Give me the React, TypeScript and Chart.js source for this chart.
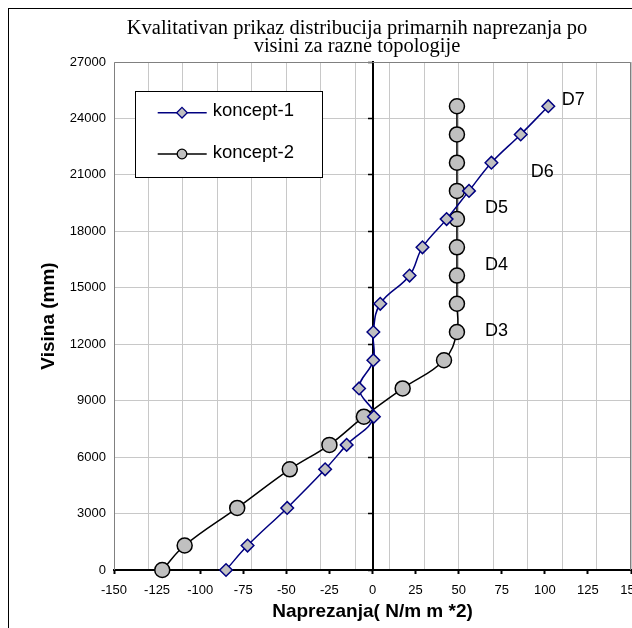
import React, { useEffect, useRef } from 'react';
import { Chart, registerables } from 'chart.js';

Chart.register(...registerables);

// ---- data ----
const heights = [0, 1300, 3300, 5350, 6650, 8150, 9650, 11150, 12650, 14150, 15650, 17150, 18650, 20150, 21650, 23150, 24650];
const koncept1 = [-85, -72.5, -49.5, -27.5, -15, 0.8, -7.8, 0.5, 0.5, 4.5, 21.5, 29, 43, 56, 69, 86, 102];
const koncept2 = [-122, -109, -78.5, -48, -25, -5, 17.5, 41.5, 49, 49, 49, 49, 49, 49, 49, 49, 49];
const seriesNames = ['koncept-1', 'koncept-2'];
const levelLabels = ['D7', 'D6', 'D5', 'D4', 'D3'];
const levelX = [116.5, 98.5, 72, 72, 72];
const levelY = [24980, 21150, 19240, 16210, 12700];
const titleLines = ['Kvalitativan prikaz distribucija primarnih naprezanja po', 'visini za razne topologije'];
const xTitle = 'Naprezanja( N/m m *2)';
const yTitle = 'Visina (mm)';

const SANS = "'Liberation Sans', Arial, Helvetica, sans-serif";
const SERIF = "'Liberation Serif', 'Times New Roman', serif";
const NAVY = '#000080';
const SILVER = '#c0c0c0';
const GRID = '#c8c8c8';

export default function App() {
  const ref = useRef<HTMLCanvasElement>(null);

  useEffect(() => {
    const canvas = ref.current;
    if (!canvas) return;

    const bgPlugin = {
      id: 'bgFrameTitle',
      beforeDraw(chart: any) {
        const ctx = chart.ctx;
        ctx.save();
        ctx.fillStyle = '#fff';
        ctx.fillRect(0, 0, chart.width, chart.height);
        ctx.strokeStyle = '#000';
        ctx.lineWidth = 1;
        ctx.strokeRect(0.5, 0.5, chart.width - 1, chart.height - 1);
        ctx.fillStyle = '#000';
        ctx.font = `20.5px ${SERIF}`;
        ctx.textAlign = 'center';
        ctx.textBaseline = 'alphabetic';
        ctx.fillText(titleLines[0], 349, 25.5);
        ctx.fillText(titleLines[1], 349, 44);
        ctx.restore();
      },
    };

    const plotFramePlugin = {
      id: 'plotFrame',
      beforeDatasetsDraw(chart: any) {
        const { left, top, right, bottom } = chart.chartArea;
        const ctx = chart.ctx;
        ctx.save();
        ctx.strokeStyle = '#808080';
        ctx.lineWidth = 1;
        ctx.beginPath();
        ctx.moveTo(left + 0.5, bottom);
        ctx.lineTo(left + 0.5, top + 0.5);
        ctx.lineTo(right - 0.5, top + 0.5);
        ctx.lineTo(right - 0.5, bottom);
        ctx.stroke();
        ctx.restore();
      },
    };

    const drawDiamond = (ctx: CanvasRenderingContext2D, x: number, y: number, r: number) => {
      ctx.beginPath();
      ctx.moveTo(x - r, y);
      ctx.lineTo(x, y - r);
      ctx.lineTo(x + r, y);
      ctx.lineTo(x, y + r);
      ctx.closePath();
    };

    const overlayPlugin = {
      id: 'overlay',
      afterDraw(chart: any) {
        const ctx = chart.ctx;
        const ca = chart.chartArea;
        ctx.save();
        // legend
        const bx = ca.left + 21;
        const by = ca.top + 29;
        const bw = 187;
        const bh = 86;
        ctx.fillStyle = '#fff';
        ctx.fillRect(bx, by, bw, bh);
        ctx.strokeStyle = '#000';
        ctx.lineWidth = 1;
        ctx.strokeRect(bx + 0.5, by + 0.5, bw, bh);
        const entries = [
          { name: seriesNames[0], color: NAVY, shape: 'diamond', y: by + 21.7 },
          { name: seriesNames[1], color: '#000', shape: 'circle', y: by + 63 },
        ];
        entries.forEach((e) => {
          ctx.strokeStyle = e.color;
          ctx.lineWidth = 1.5;
          ctx.beginPath();
          ctx.moveTo(bx + 22.7, e.y);
          ctx.lineTo(bx + 71.7, e.y);
          ctx.stroke();
          const mx = bx + 47;
          if (e.shape === 'diamond') {
            drawDiamond(ctx, mx, e.y, 5.3);
          } else {
            ctx.beginPath();
            ctx.arc(mx, e.y, 4.8, 0, Math.PI * 2);
          }
          ctx.fillStyle = SILVER;
          ctx.fill();
          ctx.lineWidth = 1.3;
          ctx.strokeStyle = e.color;
          ctx.stroke();
          ctx.fillStyle = '#000';
          ctx.font = `18.5px ${SANS}`;
          ctx.textAlign = 'left';
          ctx.textBaseline = 'middle';
          ctx.fillText(e.name, bx + 77.7, e.y - 1.5);
        });
        // level labels
        const xs = chart.scales.x;
        const ys = chart.scales.y;
        ctx.fillStyle = '#000';
        ctx.font = `18px ${SANS}`;
        ctx.textAlign = 'center';
        ctx.textBaseline = 'middle';
        levelLabels.forEach((lab, i) => {
          ctx.fillText(lab, xs.getPixelForValue(levelX[i]), ys.getPixelForValue(levelY[i]));
        });
        ctx.restore();
      },
    };

    const chart = new Chart(canvas, {
      type: 'scatter',
      data: {
        datasets: [
          {
            label: seriesNames[0],
            data: heights.map((h, i) => ({ x: koncept1[i], y: h })),
            showLine: true,
            borderColor: NAVY,
            borderWidth: 1.5,
            backgroundColor: SILVER,
            pointStyle: 'rectRot',
            pointRadius: 6.3,
            pointBorderWidth: 1.5,
            pointBorderColor: NAVY,
            pointBackgroundColor: SILVER,
            tension: 0.4,
            clip: false,
            xAxisID: 'x',
            yAxisID: 'y',
          },
          {
            label: seriesNames[1],
            data: heights.map((h, i) => ({ x: koncept2[i], y: h })),
            showLine: true,
            borderColor: '#000',
            borderWidth: 1.5,
            backgroundColor: SILVER,
            pointStyle: 'circle',
            pointRadius: 7.5,
            pointBorderWidth: 1.5,
            pointBorderColor: '#000',
            pointBackgroundColor: SILVER,
            tension: 0.4,
            clip: false,
            xAxisID: 'x',
            yAxisID: 'y',
          },
        ],
      } as any,
      options: {
        responsive: false,
        animation: false,
        devicePixelRatio: 1,
        events: [],
        layout: { padding: { left: 0, top: 54, right: 57, bottom: 18 } },
        plugins: {
          legend: { display: false },
          title: { display: false },
          tooltip: { enabled: false },
        },
        scales: {
          x: {
            type: 'linear',
            position: 'bottom',
            min: -150,
            max: 150,
            ticks: {
              stepSize: 25,
              autoSkip: false,
              maxRotation: 0,
              padding: 9,
              color: '#000',
              font: { family: SANS, size: 13 },
              callback: (v: any) => String(v),
            },
            grid: { drawOnChartArea: false, drawTicks: true, tickLength: 4, tickWidth: 2, tickColor: '#000' },
            border: { display: true, color: '#000', width: 2 },
            title: {
              display: true,
              text: xTitle,
              color: '#000',
              font: { family: SANS, size: 19, weight: 'bold' },
              padding: { top: 0, bottom: 6.6 },
            },
            afterFit: (s: any) => {
              s.height = 60;
            },
          },
          x2: {
            type: 'linear',
            position: 'top',
            min: 0,
            max: 300,
            ticks: { stepSize: 20, display: false },
            grid: { color: GRID, lineWidth: 1, drawTicks: false },
            border: { display: false },
            afterFit: (s: any) => {
              s.height = 0;
            },
          },
          y: {
            type: 'linear',
            position: 'left',
            min: 0,
            max: 27000,
            ticks: {
              stepSize: 3000,
              padding: 8,
              color: '#000',
              font: { family: SANS, size: 13 },
              callback: (v: any) => String(v),
            },
            grid: { color: GRID, lineWidth: 1, drawTicks: false },
            border: { display: false },
            title: {
              display: true,
              text: yTitle,
              color: '#000',
              font: { family: SANS, size: 19, weight: 'bold' },
              padding: { top: 29, bottom: 0 },
            },
            afterFit: (s: any) => {
              s.width = 106;
            },
          },
          y2: {
            type: 'linear',
            position: { x: 0 },
            min: 0,
            max: 27000,
            ticks: { stepSize: 3000, display: false },
            grid: { drawOnChartArea: false, drawTicks: true, tickLength: 4, tickWidth: 1.5, tickColor: '#000' },
            border: { display: true, color: '#000', width: 2 },
          },
        },
      } as any,
      plugins: [bgPlugin, plotFramePlugin, overlayPlugin],
    });

    return () => {
      chart.destroy();
    };
  }, []);

  return (
    <div style={{ position: 'fixed', left: 8, top: 8, width: 624, height: 620, overflow: 'hidden' }}>
      <canvas ref={ref} width={680} height={640} style={{ display: 'block' }} />
    </div>
  );
}
